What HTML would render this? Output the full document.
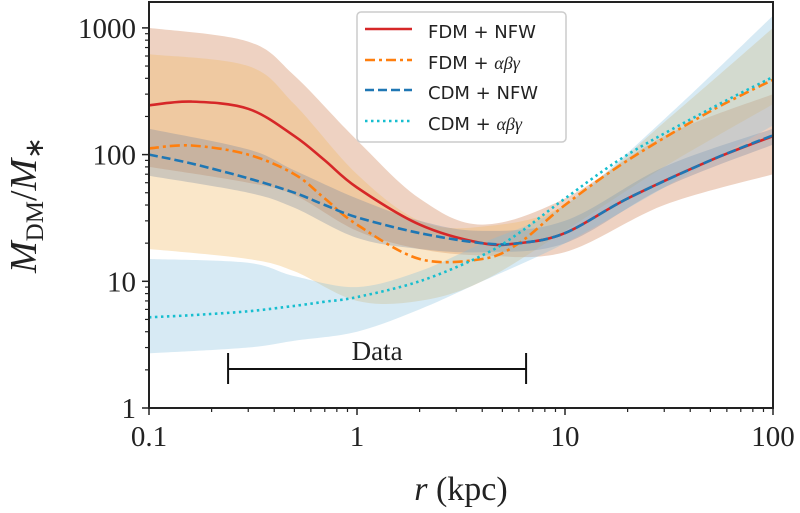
<!DOCTYPE html>
<html><head><meta charset="utf-8"><style>
body{margin:0;background:#fff;}
svg{display:block;font-family:"Liberation Serif",serif;}
</style></head><body>
<svg id="chart" width="800" height="513" viewBox="0 0 800 513" xmlns="http://www.w3.org/2000/svg">
<g id="bands"></g>
<g id="lines"></g>
<g id="axes"></g>
<g id="databar"></g>
<g>
<rect x="357" y="12" width="209" height="130" rx="4" fill="#fff" fill-opacity="0.85" stroke="#ccc" stroke-width="1.5"/>
<line x1="365" y1="29" x2="412" y2="29" stroke="#d62728" stroke-width="2.5"/>
<text x="428" y="38" font-family="DejaVu Sans,sans-serif" font-size="18" fill="#222">FDM + NFW</text>
<line x1="365" y1="60" x2="412" y2="60" stroke="#ff7f0e" stroke-width="2.5" stroke-dasharray="10,4,3,4"/>
<text x="428" y="69" font-family="DejaVu Sans,sans-serif" font-size="18" fill="#222">FDM + <tspan font-family="Liberation Serif,serif" font-style="italic">αβγ</tspan></text>
<line x1="365" y1="90" x2="412" y2="90" stroke="#1f77b4" stroke-width="2.5" stroke-dasharray="9,4"/>
<text x="428" y="99" font-family="DejaVu Sans,sans-serif" font-size="18" fill="#222">CDM + NFW</text>
<line x1="365" y1="121" x2="412" y2="121" stroke="#17becf" stroke-width="2.5" stroke-dasharray="2.5,3.5"/>
<text x="428" y="130" font-family="DejaVu Sans,sans-serif" font-size="18" fill="#222">CDM + <tspan font-family="Liberation Serif,serif" font-style="italic">αβγ</tspan></text>
</g>
</svg>
<script>
const radii=[0.1,0.16,0.3,0.5,0.7,1,2,4,6,10,20,50,100];
const fdmNfw=[245,262,230,140,90,55,28,20,20,24,45,90,140];
const fdmAbg=[112,118,100,70,45,28,15,15,20,40,90,220,390];
const cdmNfw=[100,85,65,50,40,32,24,20,20,24,45,90,142];
const cdmAbg=[5.2,5.4,5.8,6.4,6.9,7.5,10,16,24,45,100,230,410];
const bandR=[0.1,0.3,0.5,1,2,4,10,30,100];
const fdmNfwHi=[1000,780,420,130,45,28,45,140,300];
const fdmNfwLo=[80,60,48,25,18,16,17,40,70];
const fdmAbgHi=[620,500,250,70,30,27,40,180,1000];
const fdmAbgLo=[18,15,12,7,7,10,25,80,250];
const cdmNfwHi=[160,110,75,45,30,25,30,80,160];
const cdmNfwLo=[68,50,38,22,18,17,20,55,120];
const cdmAbgHi=[15,14,11,9,12,20,40,190,1250];
const cdmAbgLo=[2.7,3,3.4,4,6,10,20,55,170];
const xTicks=[0.1,1,10,100];
const xTickLabels=["0.1","1","10","100"];
const yTicks=[1,10,100,1000];
const yTickLabels=["1","10","100","1000"];
const X0=149,XD=208,Y0=408,YD=126.7;
const xs=r=>X0+XD*(Math.log10(r)+1);
const ys=v=>Y0-YD*Math.log10(v);
const NS="http://www.w3.org/2000/svg";
function mk(tag,attrs,parent){const e=document.createElementNS(NS,tag);for(const k in attrs)e.setAttribute(k,attrs[k]);parent.appendChild(e);return e;}
function smooth(pts){let d="M"+pts[0][0].toFixed(1)+","+pts[0][1].toFixed(1);
 for(let i=0;i<pts.length-1;i++){const p0=pts[Math.max(0,i-1)],p1=pts[i],p2=pts[i+1],p3=pts[Math.min(pts.length-1,i+2)];
 const c1=[p1[0]+(p2[0]-p0[0])/6,p1[1]+(p2[1]-p0[1])/6],c2=[p2[0]-(p3[0]-p1[0])/6,p2[1]-(p3[1]-p1[1])/6];
 d+="C"+c1[0].toFixed(1)+","+c1[1].toFixed(1)+" "+c2[0].toFixed(1)+","+c2[1].toFixed(1)+" "+p2[0].toFixed(1)+","+p2[1].toFixed(1);}
 return d;}
function pts(rs,vs){return rs.map((r,i)=>[xs(r),ys(vs[i])]);}
const bands=document.getElementById('bands');
function band(hi,lo,fill,op,name){
 const top=smooth(pts(bandR,hi));
 const bot=smooth(pts(bandR,lo).reverse()).replace(/^M/,"L");
 const e=mk('path',{d:top+bot+"Z",fill:fill,'fill-opacity':op},bands);
 
 }
const cp=mk('clipPath',{id:'clip'},bands);mk('rect',{x:149,y:2,width:624,height:406},cp);
bands.setAttribute('clip-path','url(#clip)');
band(fdmNfwHi,fdmNfwLo,'rgb(205,125,80)',0.35,'band-fdm-nfw');
band(fdmAbgHi,fdmAbgLo,'rgb(240,185,100)',0.35,'band-fdm-abg');
band(cdmNfwHi,cdmNfwLo,'rgb(110,130,160)',0.3,'band-cdm-nfw');
band(cdmAbgHi,cdmAbgLo,'rgb(130,190,220)',0.32,'band-cdm-abg');
const lines=document.getElementById('lines');
lines.setAttribute('clip-path','url(#clip)');
function line(vs,col,dash,name){const e=mk('path',{d:smooth(pts(radii,vs)),fill:'none',stroke:col,'stroke-width':2.6},lines);
 if(dash)e.setAttribute('stroke-dasharray',dash);
 
 }
line(fdmNfw,'#d62728',null,'line-fdm-nfw');
line(fdmAbg,'#ff7f0e','10,4,3,4','line-fdm-abg');
line(cdmNfw,'#1f77b4','9,4','line-cdm-nfw');
line(cdmAbg,'#17becf','2.5,3.5','line-cdm-abg');
const ax=document.getElementById('axes');
mk('rect',{x:149,y:2,width:624,height:406,fill:'none',stroke:'#222','stroke-width':2},ax);
for(let dec=-1;dec<2;dec++)for(let m=2;m<10;m++){const x=xs(m*Math.pow(10,dec));mk('line',{x1:x,y1:408,x2:x,y2:412,stroke:'#222','stroke-width':1.2},ax);}
for(let dec=0;dec<3;dec++)for(let m=2;m<10;m++){const y=ys(m*Math.pow(10,dec));mk('line',{x1:145,y1:y,x2:149,y2:y,stroke:'#222','stroke-width':1.2},ax);}
xTicks.forEach((t,i)=>{const x=xs(t);mk('line',{x1:x,y1:408,x2:x,y2:415,stroke:'#222','stroke-width':1.5},ax);
 const e=mk('text',{x:x,y:446,'text-anchor':'middle','font-size':29,fill:'#222'},ax);e.textContent=xTickLabels[i];
 
 });
yTicks.forEach((t,i)=>{const y=ys(t);mk('line',{x1:142,y1:y,x2:149,y2:y,stroke:'#222','stroke-width':1.5},ax);
 const e=mk('text',{x:136,y:y+10,'text-anchor':'end','font-size':29,fill:'#222'},ax);e.textContent=yTickLabels[i];
 
 });
const xl=mk('text',{x:461,y:500,'text-anchor':'middle','font-size':34,fill:'#222'},ax);
xl.innerHTML='<tspan font-style="italic">r</tspan> (kpc)';


const yl=mk('text',{x:0,y:0,'text-anchor':'middle','font-size':38,fill:'#222',transform:'translate(36,205) rotate(-90)'},ax);
yl.innerHTML='<tspan font-style="italic">M</tspan><tspan font-size="25" dy="7">DM</tspan><tspan dy="-7">/</tspan><tspan font-style="italic">M</tspan><tspan font-size="26" dy="7">∗</tspan>';


const db=document.getElementById('databar');
const dataRange=[0.24,6.5];
const xa=xs(dataRange[0]),xb=xs(dataRange[1]);
mk('line',{x1:xa,y1:369,x2:xb,y2:369,stroke:'#111','stroke-width':2},db);
mk('line',{x1:xa,y1:353,x2:xa,y2:384,stroke:'#111','stroke-width':2},db);
mk('line',{x1:xb,y1:353,x2:xb,y2:384,stroke:'#111','stroke-width':2},db);
const dt=mk('text',{x:(xa+xb)/2,y:360,'text-anchor':'middle','font-size':27,fill:'#222'},db);dt.textContent='Data';


</script>
</body></html>
